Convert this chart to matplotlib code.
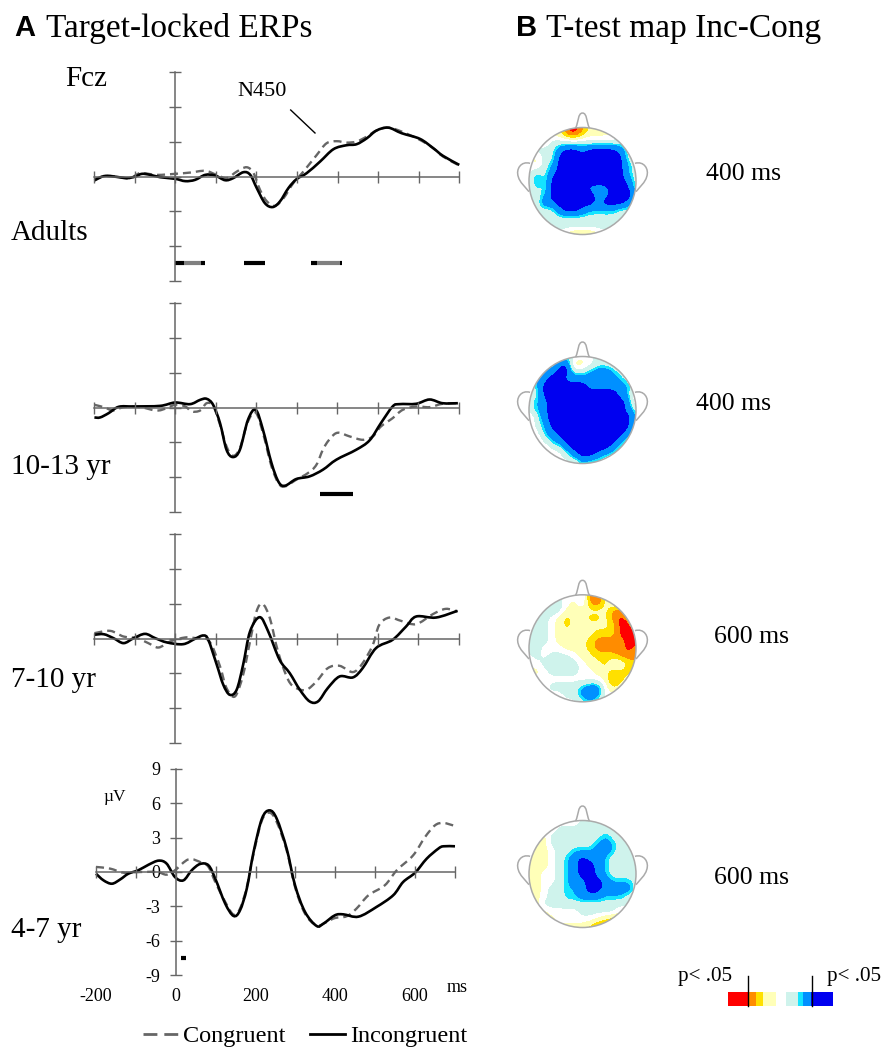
import matplotlib
matplotlib.use("Agg")
import matplotlib.pyplot as plt
import numpy as np
from matplotlib.colors import ListedColormap, BoundaryNorm
from matplotlib.lines import Line2D
from matplotlib.patches import Circle, PathPatch
from matplotlib.path import Path

plt.rcParams['font.family'] = ['Liberation Serif', 'DejaVu Serif']

W, H = 892, 1059

# ERP curves: time in ms, amplitude in uV
adults_inc_t = [-199,-176,-152,-119,-98,-82,-61,-37,0,25,49,74,98,123,143,168,185,201,221,240,258,279,299,324,357,390,422,447,472,496,525,558,603,636,660,700]
adults_inc_v = [-.34,.03,0,-.14,0,.23,.14,-.06,-.2,-.4,-.29,.14,.09,-.32,-.14,.37,.14,-1.0,-2.3,-2.64,-2.16,-1.0,-.23,.29,1.29,2.36,2.7,2.79,3.3,3.97,4.22,3.74,3.25,2.44,1.78,1.0]
adults_con_t = [-199,-168,-135,-111,-86,-45,0,37,74,102,127,152,176,193,209,226,246,267,291,316,349,373,398,422,447,472,496,525,558,603,636,660,700]
adults_con_v = [-.23,.06,-.06,-.17,.29,.14,.23,.34,.49,.14,-.14,.43,.80,.29,-1.15,-2.15,-2.53,-1.87,-.57,.43,1.87,2.87,3.05,2.93,3.02,3.45,3.97,4.22,3.88,3.16,2.44,1.72,.95]

y10_inc_t = [-199,-185,-164,-139,-102,-37,0,37,62,78,94,111,127,143,160,180,199,217,238,256,272,299,332,365,398,447,480,508,537,554,595,628,660,698]
y10_inc_v = [-.86,-.86,-.49,.06,.09,.14,.43,.29,.66,.75,.23,-1.35,-3.65,-4.28,-3.65,-1.06,-.2,-1.93,-4.8,-6.46,-6.75,-6.18,-5.95,-5.37,-4.51,-3.65,-2.84,-1.35,.09,.29,.32,.69,.37,.37]
y10_con_t = [-199,-176,-152,-127,-86,-41,0,25,41,62,78,94,111,127,143,160,180,199,217,238,256,272,299,328,349,369,398,431,463,488,508,537,562,595,628,660,698]
y10_con_v = [.23,.03,-.26,.03,.03,-.26,.23,.09,-.34,-.26,.37,.14,-1.49,-3.36,-4.17,-3.51,-1.21,-.43,-2.21,-5.09,-6.58,-6.81,-6.24,-5.66,-4.94,-3.36,-2.21,-2.5,-2.79,-2.5,-1.64,-.92,-.2,.09,.03,.32,.37]

y7_inc_t = [-199,-176,-152,-127,-102,-74,-49,-20,20,49,70,82,103,119,135,152,168,185,209,230,258,283,308,332,353,377,406,439,463,496,537,570,595,644,697]
y7_inc_v = [.32,.37,.03,-.4,.03,.4,.03,-.34,-.49,-.03,.26,-.11,-2.27,-3.99,-4.86,-4.43,-2.27,.6,1.84,.6,-1.84,-2.99,-4.43,-5.43,-5.43,-4.28,-3.28,-3.36,-2.56,-.83,-.11,1.03,1.9,1.81,2.39]
y7_con_t = [-199,-160,-127,-94,-66,-41,-12,25,53,74,90,111,127,148,168,185,201,216,234,254,279,299,324,349,377,406,439,463,488,504,529,558,595,636,668,697]
y7_con_v = [.46,.66,.17,.03,-.4,-.78,-.26,.09,.03,.03,-.55,-2.41,-4.28,-5.0,-3.13,-.26,2.33,2.99,1.75,-1.12,-3.56,-4.28,-4.43,-3.71,-2.56,-2.36,-2.9,-2.13,-.55,1.18,1.81,1.52,1.24,2.1,2.56,2.33]

y4_inc_t = [-200,-181,-160,-139,-119,-94,-68,-43,-23,-2,19,40,61,82,99,124,145,161,178,195,216,235,253,278,299,324,353,370,399,420,458,503,545,570,600,629,658,671,700]
y4_inc_v = [-.15,-.73,-1.02,-.64,-.15,.15,.64,.99,.73,-.44,-.73,.15,.7,.58,-.58,-2.76,-3.83,-3.34,-1.45,1.74,4.65,5.37,4.65,2.03,-1.16,-3.48,-4.7,-4.5,-3.77,-3.69,-3.89,-3.05,-2.03,-.87,-.06,1.16,2.03,2.24,2.24]
y4_con_t = [-200,-164,-131,-89,-47,-23,-2,32,65,82,99,124,145,161,178,195,216,235,253,278,299,324,353,378,399,428,453,483,524,554,595,625,650,671,700]
y4_con_v = [.44,.29,-.06,0,0,-.23,.15,1.1,.81,.44,-.87,-2.61,-3.72,-3.19,-1.31,1.6,4.5,5.17,4.36,1.89,-1.31,-3.63,-4.65,-4.36,-4.01,-3.86,-3.19,-2.03,-1.16,.15,1.45,3.05,4.07,4.27,4.01]

# significant windows (start ms, end ms, colour)
adults_sig = [(0,22,'black'),(22,63,'#808080'),(63,74,'black'),(170,221,'black'),(334,350,'black'),(350,406,'#808080'),(406,412,'black')]
y10_sig = [(358,440,'black')]
y4_sig = [(12,26,'black')]

x_ticks = [-200,-100,0,100,200,300,400,500,600,700]
y_ticks = [-9,-6,-3,0,3,6,9]
x_labels = [-200,0,200,400,600]

# scalp maps: levels on a 15x15 grid, -4 red .. 0 white .. 4 blue
map_adults = [
 [0,0,0,0,-1,-4,-4,-3,-1,-1,0,0,0,0,0],
 [0,0,0,-1,-1,-3,-4,-2,-1,-1,-1,-1,0,0,0],
 [0,0,-1,1,1,1,1,1,1,1,1,1,1,1,0],
 [0,1,1,1,3,4,4,3,4,4,4,4,3,1,1],
 [0,-1,1,1,4,4,4,4,4,4,4,4,4,1,1],
 [0,-1,1,2,4,4,4,4,4,4,4,4,4,2,1],
 [0,2,1,3,4,4,4,4,4,4,4,4,4,2,1],
 [0,3,1,4,4,4,4,4,4,4,4,4,4,3,1],
 [0,2,1,4,4,4,4,4,3,3,3,4,4,4,1],
 [0,1,2,4,4,4,4,4,4,3,3,4,4,4,3],
 [0,1,3,3,4,4,4,4,4,3,4,4,4,3,1],
 [0,1,1,1,3,4,4,3,2,2,2,2,1,1,1],
 [-1,0,1,1,1,1,1,1,1,1,1,1,1,1,-1],
 [-1,-1,0,1,1,1,1,1,1,1,1,1,1,-1,-1],
 [0,0,0,0,0,-1,-2,-2,-2,-1,0,0,0,0,0],
]
map_10_13 = [
 [0,0,0,0,1,1,1,0,0,1,1,0,0,0,0],
 [0,0,1,1,3,4,-2,-1,0,1,1,1,0,0,0],
 [0,1,2,3,4,4,1,1,2,3,3,2,1,0,0],
 [0,2,3,4,4,3,3,3,3,3,3,3,2,1,0],
 [0,2,4,4,4,4,4,4,3,3,3,3,3,2,1],
 [1,1,4,4,4,4,4,4,4,4,4,4,3,2,-1],
 [1,2,3,4,4,4,4,4,4,4,4,4,4,3,-1],
 [1,2,3,4,4,4,4,4,4,4,4,4,4,3,1],
 [-1,1,3,4,4,4,4,4,4,4,4,4,4,4,2],
 [-1,1,2,4,4,4,4,4,4,4,4,4,4,4,1],
 [-1,0,2,3,4,4,4,4,4,4,4,4,4,3,1],
 [0,-1,1,2,3,4,4,4,4,4,4,4,3,1,1],
 [0,0,-1,1,1,3,4,4,4,4,4,3,1,1,0],
 [0,0,0,-1,0,1,3,4,4,3,2,1,1,0,0],
 [0,0,0,0,0,0,0,2,1,1,0,0,0,0,0],
]
map_7_10 = [
 [0,0,0,0,0,0,0,1,-3,-4,-1,0,0,0,0],
 [0,0,1,2,1,0,-1,1,-3,-4,-1,0,0,0,0],
 [0,1,1,2,1,-1,-1,-1,-1,-1,-1,-3,-3,-1,0],
 [0,1,1,0,-1,-2,-1,-1,-2,-2,-1,-3,-4,-3,-2],
 [1,1,1,0,-1,-2,-1,-1,-1,-1,-1,-2,-4,-4,-2],
 [1,1,1,0,-1,-1,-1,-1,-1,-2,-2,-2,-4,-4,-4],
 [1,1,1,0,-1,-1,-1,-1,-2,-3,-3,-3,-3,-4,-4],
 [1,1,0,0,0,-1,-1,-1,-2,-3,-3,-3,-3,-4,-3],
 [0,1,0,1,1,1,0,-1,-1,-2,-2,-2,-3,-3,-3],
 [0,0,1,1,1,1,1,0,-1,-1,-2,0,0,-2,-2],
 [-1,-1,0,1,1,1,1,0,0,-1,-1,-2,-2,-2,-1],
 [0,0,0,0,0,0,0,0,0,0,-1,-3,-2,-1,0],
 [0,0,0,1,1,1,1,2,3,3,0,-2,-1,0,0],
 [0,0,0,0,0,1,1,3,3,3,0,0,0,0,0],
 [0,0,0,0,0,0,0,1,2,1,0,0,0,0,0],
]
map_4_7 = [
 [0,0,0,0,-1,-1,-1,1,1,0,0,0,0,0,0],
 [0,0,0,-1,1,1,1,1,2,1,1,1,1,0,0],
 [0,-1,-1,1,1,1,1,1,1,1,2,1,1,1,0],
 [0,-1,-1,1,1,1,1,1,1,2,3,2,1,1,1],
 [-1,-2,-1,0,1,1,2,2,2,3,3,2,1,1,1],
 [-1,-1,-1,0,1,2,3,4,3,3,2,1,1,1,1],
 [-1,-1,-1,0,1,2,3,4,4,3,2,1,1,1,1],
 [-1,-1,0,0,1,2,3,4,4,3,2,1,1,1,1],
 [-1,-1,0,0,1,2,3,3,4,4,3,2,2,2,1],
 [-1,-1,0,1,1,2,2,3,4,4,3,3,3,3,1],
 [-1,-1,0,1,1,2,2,3,3,3,2,2,2,1,1],
 [-1,-1,1,1,1,1,1,1,1,1,1,1,1,1,1],
 [-1,-1,-1,0,0,0,0,1,1,1,1,1,-1,-1,0],
 [0,-1,-1,-1,0,0,0,0,0,-1,-2,-3,-1,0,0],
 [0,0,0,0,-1,-1,-1,-1,-2,-3,-2,0,0,0,0],
]

level_colors = ['#ff0000','#ff8c00','#ffe000','#ffffb8','#ffffff','#cff3ec','#14e4ff','#0090ff','#0000f0']
level_bounds = [-4.5,-3.5,-2.5,-1.5,-0.45,0.45,1.6,2.1,3.4,4.5]
cmap = ListedColormap(level_colors)
norm = BoundaryNorm(level_bounds, cmap.N)

# colour key: width of each step along the bar
key_levels = [-4,-3,-2,-1,0,1,2,3,4]
key_widths = [20,8,7,13,10,12,5,8,22]

fig = plt.figure(figsize=(W/100, H/100), dpi=100)


def px_axes(x0, y0, x1, y1, **kw):
    # axes from pixel box, y counted from the top
    return fig.add_axes([x0/W, 1-y1/H, (x1-x0)/W, (y1-y0)/H], **kw)


page = px_axes(0, 0, W, H)
page.set_xlim(0, W)
page.set_ylim(H, 0)
page.axis('off')


def smooth_curve(t, v):
    # catmull-rom through the read points, only changes how the line is drawn
    p = np.column_stack([t, v])
    q = np.vstack([p[0], p, p[-1]])
    verts = [p[0]]
    for i in range(1, len(q)-2):
        verts.append(q[i] + (q[i+1]-q[i-1])/6)
        verts.append(q[i+1] - (q[i+2]-q[i])/6)
        verts.append(q[i+1])
    return Path(verts, [Path.MOVETO]+[Path.CURVE4]*(len(verts)-1))


def erp_panel(box, con_t, con_v, inc_t, inc_v, sig=(), labelled=False):
    ax = px_axes(*box)
    ax.patch.set_alpha(0)
    ax.set_xlim(-200, 700)
    ax.set_ylim(-9, 9)
    ax.spines['top'].set_visible(False)
    ax.spines['right'].set_visible(False)
    ax.spines['left'].set_position(('data', 0))
    ax.spines['bottom'].set_position(('data', 0))
    for s in ['left', 'bottom']:
        ax.spines[s].set_color('#666666')
        ax.spines[s].set_linewidth(1.1)
    ax.set_xticks(x_ticks)
    ax.set_yticks(y_ticks)
    ax.tick_params(axis='both', direction='inout', length=8, width=1.0, color='#666666', labelsize=13, pad=7)
    ax.set_xticklabels([])
    if labelled:
        ax.set_yticklabels([str(v) for v in y_ticks])
        for t in x_labels:
            ax.text(t, -10.85, str(t), ha='center', va='center', fontsize=13, clip_on=False)
    else:
        ax.set_yticklabels([])
    ax.add_patch(PathPatch(smooth_curve(con_t, con_v), fc='none', ec='#666666', lw=1.7,
                           linestyle=(0, (3.4, 2.1)), clip_on=False))
    ax.add_patch(PathPatch(smooth_curve(inc_t, inc_v), fc='none', ec='black', lw=1.9, clip_on=False))
    for start, end, col in sig:
        ax.plot([start, end], [-7.5, -7.5], color=col, lw=3.0, solid_capstyle='butt')
    return ax


erp_panel((94, 72.3, 459.3, 280.7), adults_con_t, adults_con_v, adults_inc_t, adults_inc_v, adults_sig)
erp_panel((94, 303.3, 458.7, 511.7), y10_con_t, y10_con_v, y10_inc_t, y10_inc_v, y10_sig)
erp_panel((94, 534.3, 458.7, 742.7), y7_con_t, y7_con_v, y7_inc_t, y7_inc_v)
erp_panel((96, 768.7, 455, 975.3), y4_con_t, y4_con_v, y4_inc_t, y4_inc_v, y4_sig, labelled=True)

NOSE = Path([(-.13,.99),(-.07,1.1),(-.09,1.27),(0,1.27),(.09,1.27),(.07,1.1),(.13,.99)],
            [Path.MOVETO]+[Path.CURVE4]*6)
EAR_L = Path([(-.98,.33),(-1.15,.38),(-1.25,.22),(-1.2,.08),(-1.17,-.03),(-1.08,-.1),(-1.0,-.2)],
             [Path.MOVETO]+[Path.CURVE4]*6)
EAR_R = Path([(.98,.33),(1.15,.38),(1.25,.22),(1.2,.08),(1.17,-.03),(1.08,-.1),(1.0,-.2)],
             [Path.MOVETO]+[Path.CURVE4]*6)


def head(cx, cy, grid, r=53.5):
    # axes big enough for nose and ears
    ax = px_axes(cx-1.4*r, cy-1.4*r, cx+1.4*r, cy+1.4*r)
    step = 1/14
    im = ax.imshow(np.array(grid, dtype=float), cmap=cmap, norm=norm, extent=(-1-step, 1+step, -1-step, 1+step),
                   interpolation='bicubic', interpolation_stage='data', origin='upper', aspect='auto', zorder=1)
    ax.set_xlim(-1.4, 1.4)
    ax.set_ylim(-1.4, 1.4)
    ax.axis('off')
    im.set_clip_path(Circle((0, 0), 1, transform=ax.transData))
    ax.add_patch(Circle((0, 0), 1, fc='none', ec='#aaaaaa', lw=1.1, zorder=2))
    for p in (NOSE, EAR_L, EAR_R):
        ax.add_patch(PathPatch(p, fc='none', ec='#aaaaaa', lw=1.1, zorder=2))


head(582.5, 181, map_adults)
head(582.5, 410, map_10_13)
head(582.5, 648.3, map_7_10)
head(582.5, 874, map_4_7)

# colour key
key = px_axes(728, 992, 833, 1006)
key.pcolormesh(np.concatenate([[0], np.cumsum(key_widths)]), [0, 1], [key_levels], cmap=cmap, norm=norm)
key.axis('off')
page.plot([748, 748], [976, 1006], color='black', lw=1.0, zorder=5)
page.plot([812, 812], [976, 1006], color='black', lw=1.0, zorder=5)
key.set_zorder(0)
page.set_zorder(3)

# text
page.text(14, 28, 'A', fontsize=21, fontweight='bold', family='Liberation Sans', va='center')
page.text(46, 29, 'Target-locked ERPs', fontsize=24, va='center')
page.text(516, 28, 'B', fontsize=21, fontweight='bold', family='Liberation Sans', va='center')
page.text(546, 29, 'T-test map Inc-Cong', fontsize=24, va='center')

for s, x, y in [('Fcz', 65, 79), ('Adults', 11, 233), ('10-13 yr', 11, 467), ('7-10 yr', 11, 680), ('4-7 yr', 11, 930)]:
    page.text(x, y, s, fontsize=21, va='center')

page.text(262.5, 92, 'N450', fontsize=16, ha='center', va='center')
page.plot([290.7, 315], [110, 133], color='black', lw=1.0)
page.text(115, 797, 'µV', fontsize=12.5, ha='center', va='center')
page.text(457, 987, 'ms', fontsize=13, ha='center', va='center')

for s, x, y in [('400 ms', 743, 174), ('400 ms', 734, 404), ('600 ms', 752, 637), ('600 ms', 752, 878)]:
    page.text(x, y, s, fontsize=18.5, ha='center', va='center')

page.text(705, 977, 'p< .05', fontsize=15.2, ha='center', va='center')
page.text(854, 977, 'p< .05', fontsize=15.2, ha='center', va='center')

handles = [Line2D([], [], color='#666666', lw=2, dashes=(5, 2.5)), Line2D([], [], color='black', lw=2)]
fig.legend(handles, ['Congruent', 'Incongruent'], ncol=2, frameon=False, fontsize=17.5, loc='center',
           bbox_to_anchor=(305/W, 1-1036/H), handlelength=1.45, handletextpad=0.2, columnspacing=1.0, borderpad=0)

fig.savefig('out.png', dpi=100)
